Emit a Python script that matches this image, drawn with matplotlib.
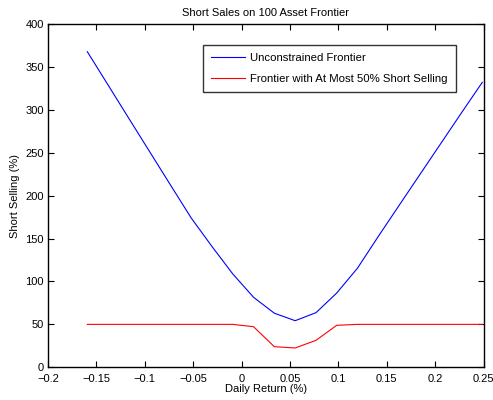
import matplotlib
matplotlib.use("Agg")
import matplotlib.pyplot as plt

# daily return (%) for each frontier portfolio
returns = [-0.1594, -0.1379, -0.1165, -0.0950, -0.0735, -0.0521, -0.0306,
           -0.0091, 0.0123, 0.0338, 0.0553, 0.0768, 0.0982, 0.1197,
           0.1412, 0.1626, 0.1841, 0.2056, 0.2271, 0.2486]

# short selling (%) along each frontier
unconstrained = [367.7, 328.8, 290.0, 251.2, 212.4, 174.0, 140.7,
                 108.7, 81.6, 63.0, 54.3, 63.6, 86.5, 115.5,
                 152.5, 188.5, 224.5, 260.5, 296.5, 332.0]
constrained = [50.0, 50.0, 50.0, 50.0, 50.0, 50.0, 50.0,
               50.0, 47.3, 24.0, 22.5, 31.4, 48.9, 50.0,
               50.0, 50.0, 50.0, 50.0, 50.0, 50.0]

xticks = [-0.2, -0.15, -0.1, -0.05, 0, 0.05, 0.1, 0.15, 0.2, 0.25]
xtick_labels = ["\u22120.2", "\u22120.15", "\u22120.1", "\u22120.05", "0",
                "0.05", "0.1", "0.15", "0.2", "0.25"]
yticks = [0, 50, 100, 150, 200, 250, 300, 350, 400]

plt.rcParams["font.family"] = ["Liberation Sans", "DejaVu Sans"]
plt.rcParams["font.size"] = 8

fig = plt.figure(figsize=(4.93, 4.0), dpi=100)
ax = fig.add_axes([0.0974, 0.0818, 0.8836, 0.8582])

ax.plot(returns, unconstrained, color="#0000ff", lw=0.8,
        label="Unconstrained Frontier")
ax.plot(returns, constrained, color="#ff0000", lw=0.8,
        label="Frontier with At Most 50% Short Selling")

ax.set_xlim(-0.2, 0.25)
ax.set_ylim(0, 400)
ax.set_xticks(xticks)
ax.set_xticklabels(xtick_labels)
ax.set_yticks(yticks)
ax.tick_params(direction="in", top=True, right=True, length=4,
               width=0.8, labelsize=8)
ax.tick_params(axis="x", pad=4.5)
ax.tick_params(axis="y", pad=3)
for s in ax.spines.values():
    s.set_linewidth(1.0)

ax.set_title("Short Sales on 100 Asset Frontier", fontsize=8, pad=6)
ax.set_xlabel("Daily Return (%)", fontsize=8, labelpad=0)
ax.set_ylabel("Short Selling (%)", fontsize=8, labelpad=4)

leg = ax.legend(loc="upper left", bbox_to_anchor=(0.356, 0.94),
                frameon=True, fancybox=False, shadow=False,
                handlelength=3.0, handletextpad=0.45, borderpad=0.7,
                labelspacing=1.0, borderaxespad=0, fontsize=8.2)
leg.get_frame().set_edgecolor("black")
leg.get_frame().set_linewidth(1.0)

fig.savefig("out.png", dpi=100)
